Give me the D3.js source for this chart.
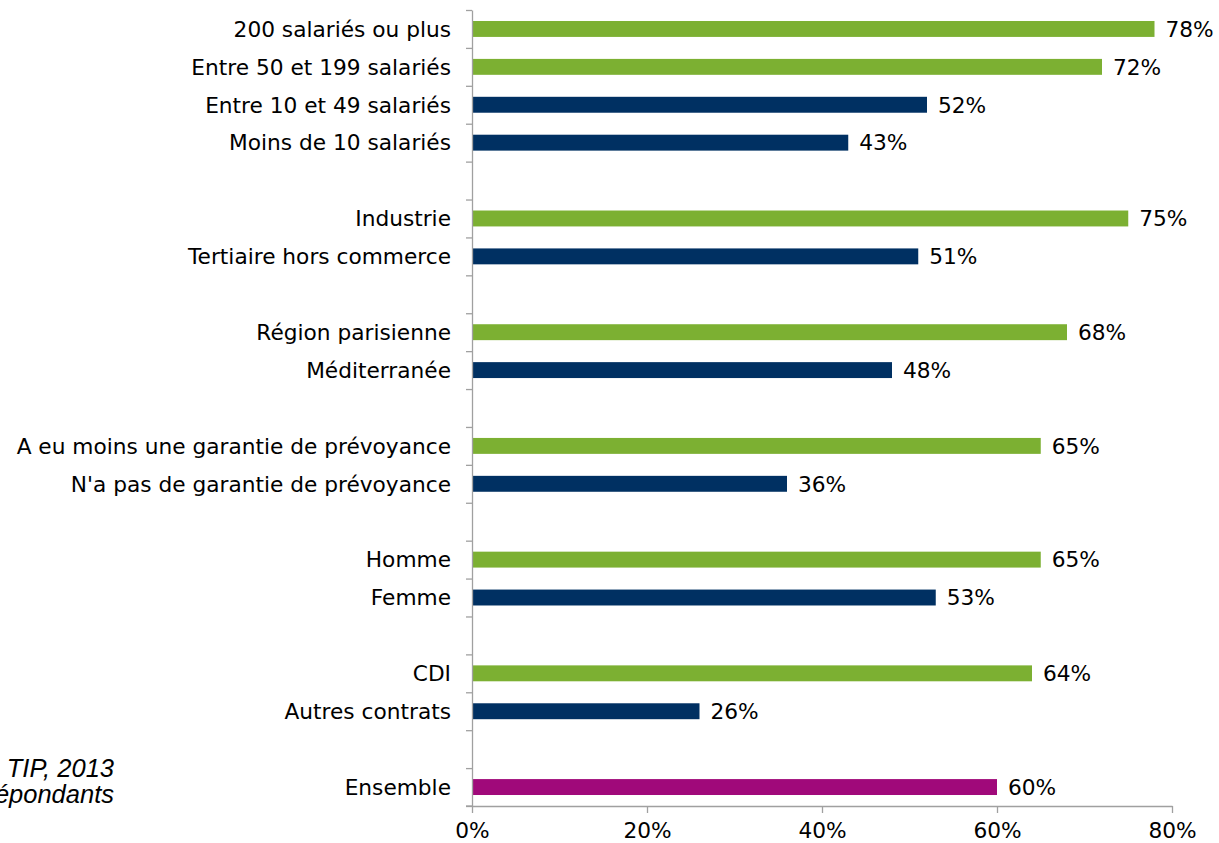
<!DOCTYPE html>
<html lang="fr">
<head>
<meta charset="utf-8">
<script src="https://cdn.jsdelivr.net/npm/d3@7/dist/d3.min.js"></script>
<style>
  html, body { margin: 0; padding: 0; background: #fff; }
  svg { display: block; }
  text { font-family: "DejaVu Sans", Verdana, sans-serif; fill: #000; }
</style>
</head>
<body>
<svg id="chart" width="1219" height="843"></svg>
<script>
// Rows from top to bottom; empty strings are spacer rows between groups
const categories = [
  "200 salariés ou plus", "Entre 50 et 199 salariés", "Entre 10 et 49 salariés", "Moins de 10 salariés", "",
  "Industrie", "Tertiaire hors commerce", "",
  "Région parisienne", "Méditerranée", "",
  "A eu moins une garantie de prévoyance", "N'a pas de garantie de prévoyance", "",
  "Homme", "Femme", "",
  "CDI", "Autres contrats", "",
  "Ensemble"
];
const values = [78, 72, 52, 43, null, 75, 51, null, 68, 48, null, 65, 36, null, 65, 53, null, 64, 26, null, 60];
// "high" = green, "low" = navy, "total" = purple
const groups = ["high", "high", "low", "low", null, "high", "low", null, "high", "low", null,
                "high", "low", null, "high", "low", null, "high", "low", null, "total"];
const xTicks = [0, 20, 40, 60, 80];
const notes = ["TIP, 2013", "épondants"];

const colors = { high: "#7cb032", low: "#003062", total: "#a0097a" };
const axisColor = "#a0a0a0";
const fontSize = 21.7;

const svg = d3.select("#chart");
const plot = { left: 472, right: 1172, top: 10, bottom: 806 };

const x = d3.scaleLinear().domain([0, 80]).range([plot.left, plot.right]);
const rowIds = categories.map((_, i) => i);
const y = d3.scaleBand().domain(rowIds).range([plot.top, plot.bottom]).paddingInner(0.58).paddingOuter(0.29);
// boundaries between rows, used for the y-axis tick marks
const yEdge = d3.scaleLinear().domain([0, categories.length]).range([plot.top, plot.bottom]);

const rows = rowIds.filter(i => values[i] !== null);

// bars
svg.append("g").selectAll("rect").data(rows).join("rect")
  .attr("x", x(0))
  .attr("y", i => y(i))
  .attr("width", i => x(values[i]) - x(0))
  .attr("height", y.bandwidth())
  .attr("fill", i => colors[groups[i]]);

// value labels
svg.append("g").selectAll("text").data(rows).join("text")
  .attr("x", i => x(values[i]) + 11)
  .attr("y", i => y(i) + y.bandwidth() / 2)
  .attr("dy", "0.36em")
  .attr("font-size", fontSize)
  .text(i => values[i] + "%");

// category labels
svg.append("g").selectAll("text").data(rows).join("text")
  .attr("x", plot.left - 21)
  .attr("y", i => y(i) + y.bandwidth() / 2)
  .attr("dy", "0.36em")
  .attr("text-anchor", "end")
  .attr("font-size", fontSize)
  .text(i => categories[i]);

// y axis: line with tick marks on row boundaries
const yAxis = svg.append("g")
  .attr("transform", `translate(${plot.left},0)`)
  .call(d3.axisLeft(yEdge).tickValues(d3.range(categories.length + 1)).tickSize(6).tickSizeOuter(0).tickFormat(""));
yAxis.select(".domain").attr("stroke", axisColor).attr("stroke-width", 1.3);
yAxis.selectAll(".tick line").attr("stroke", axisColor).attr("stroke-width", 1.3);

// x axis
const xAxis = svg.append("g")
  .attr("transform", `translate(0,${plot.bottom})`)
  .call(d3.axisBottom(x).tickValues(xTicks).tickSize(7).tickSizeOuter(0).tickPadding(10).tickFormat(d => d + "%"));
xAxis.select(".domain").attr("stroke", axisColor).attr("stroke-width", 1.3);
xAxis.selectAll(".tick line").attr("stroke", axisColor).attr("stroke-width", 1.3);
xAxis.selectAll(".tick text").attr("font-size", fontSize).attr("font-family", "DejaVu Sans, Verdana, sans-serif").attr("fill", "#000");
// extend the baseline to meet the y-axis ticks
svg.append("line")
  .attr("x1", plot.left - 6).attr("x2", plot.left)
  .attr("y1", plot.bottom).attr("y2", plot.bottom)
  .attr("stroke", axisColor).attr("stroke-width", 1.3);

// source notes, bottom left
svg.append("g").selectAll("text").data(notes).join("text")
  .attr("x", 114)
  .attr("y", (d, i) => 777 + i * 26)
  .attr("text-anchor", "end")
  .attr("font-size", 25.5)
  .attr("font-style", "italic")
  .style("font-family", "'Liberation Sans', Arial, sans-serif")
  .text(d => d);
</script>
</body>
</html>
